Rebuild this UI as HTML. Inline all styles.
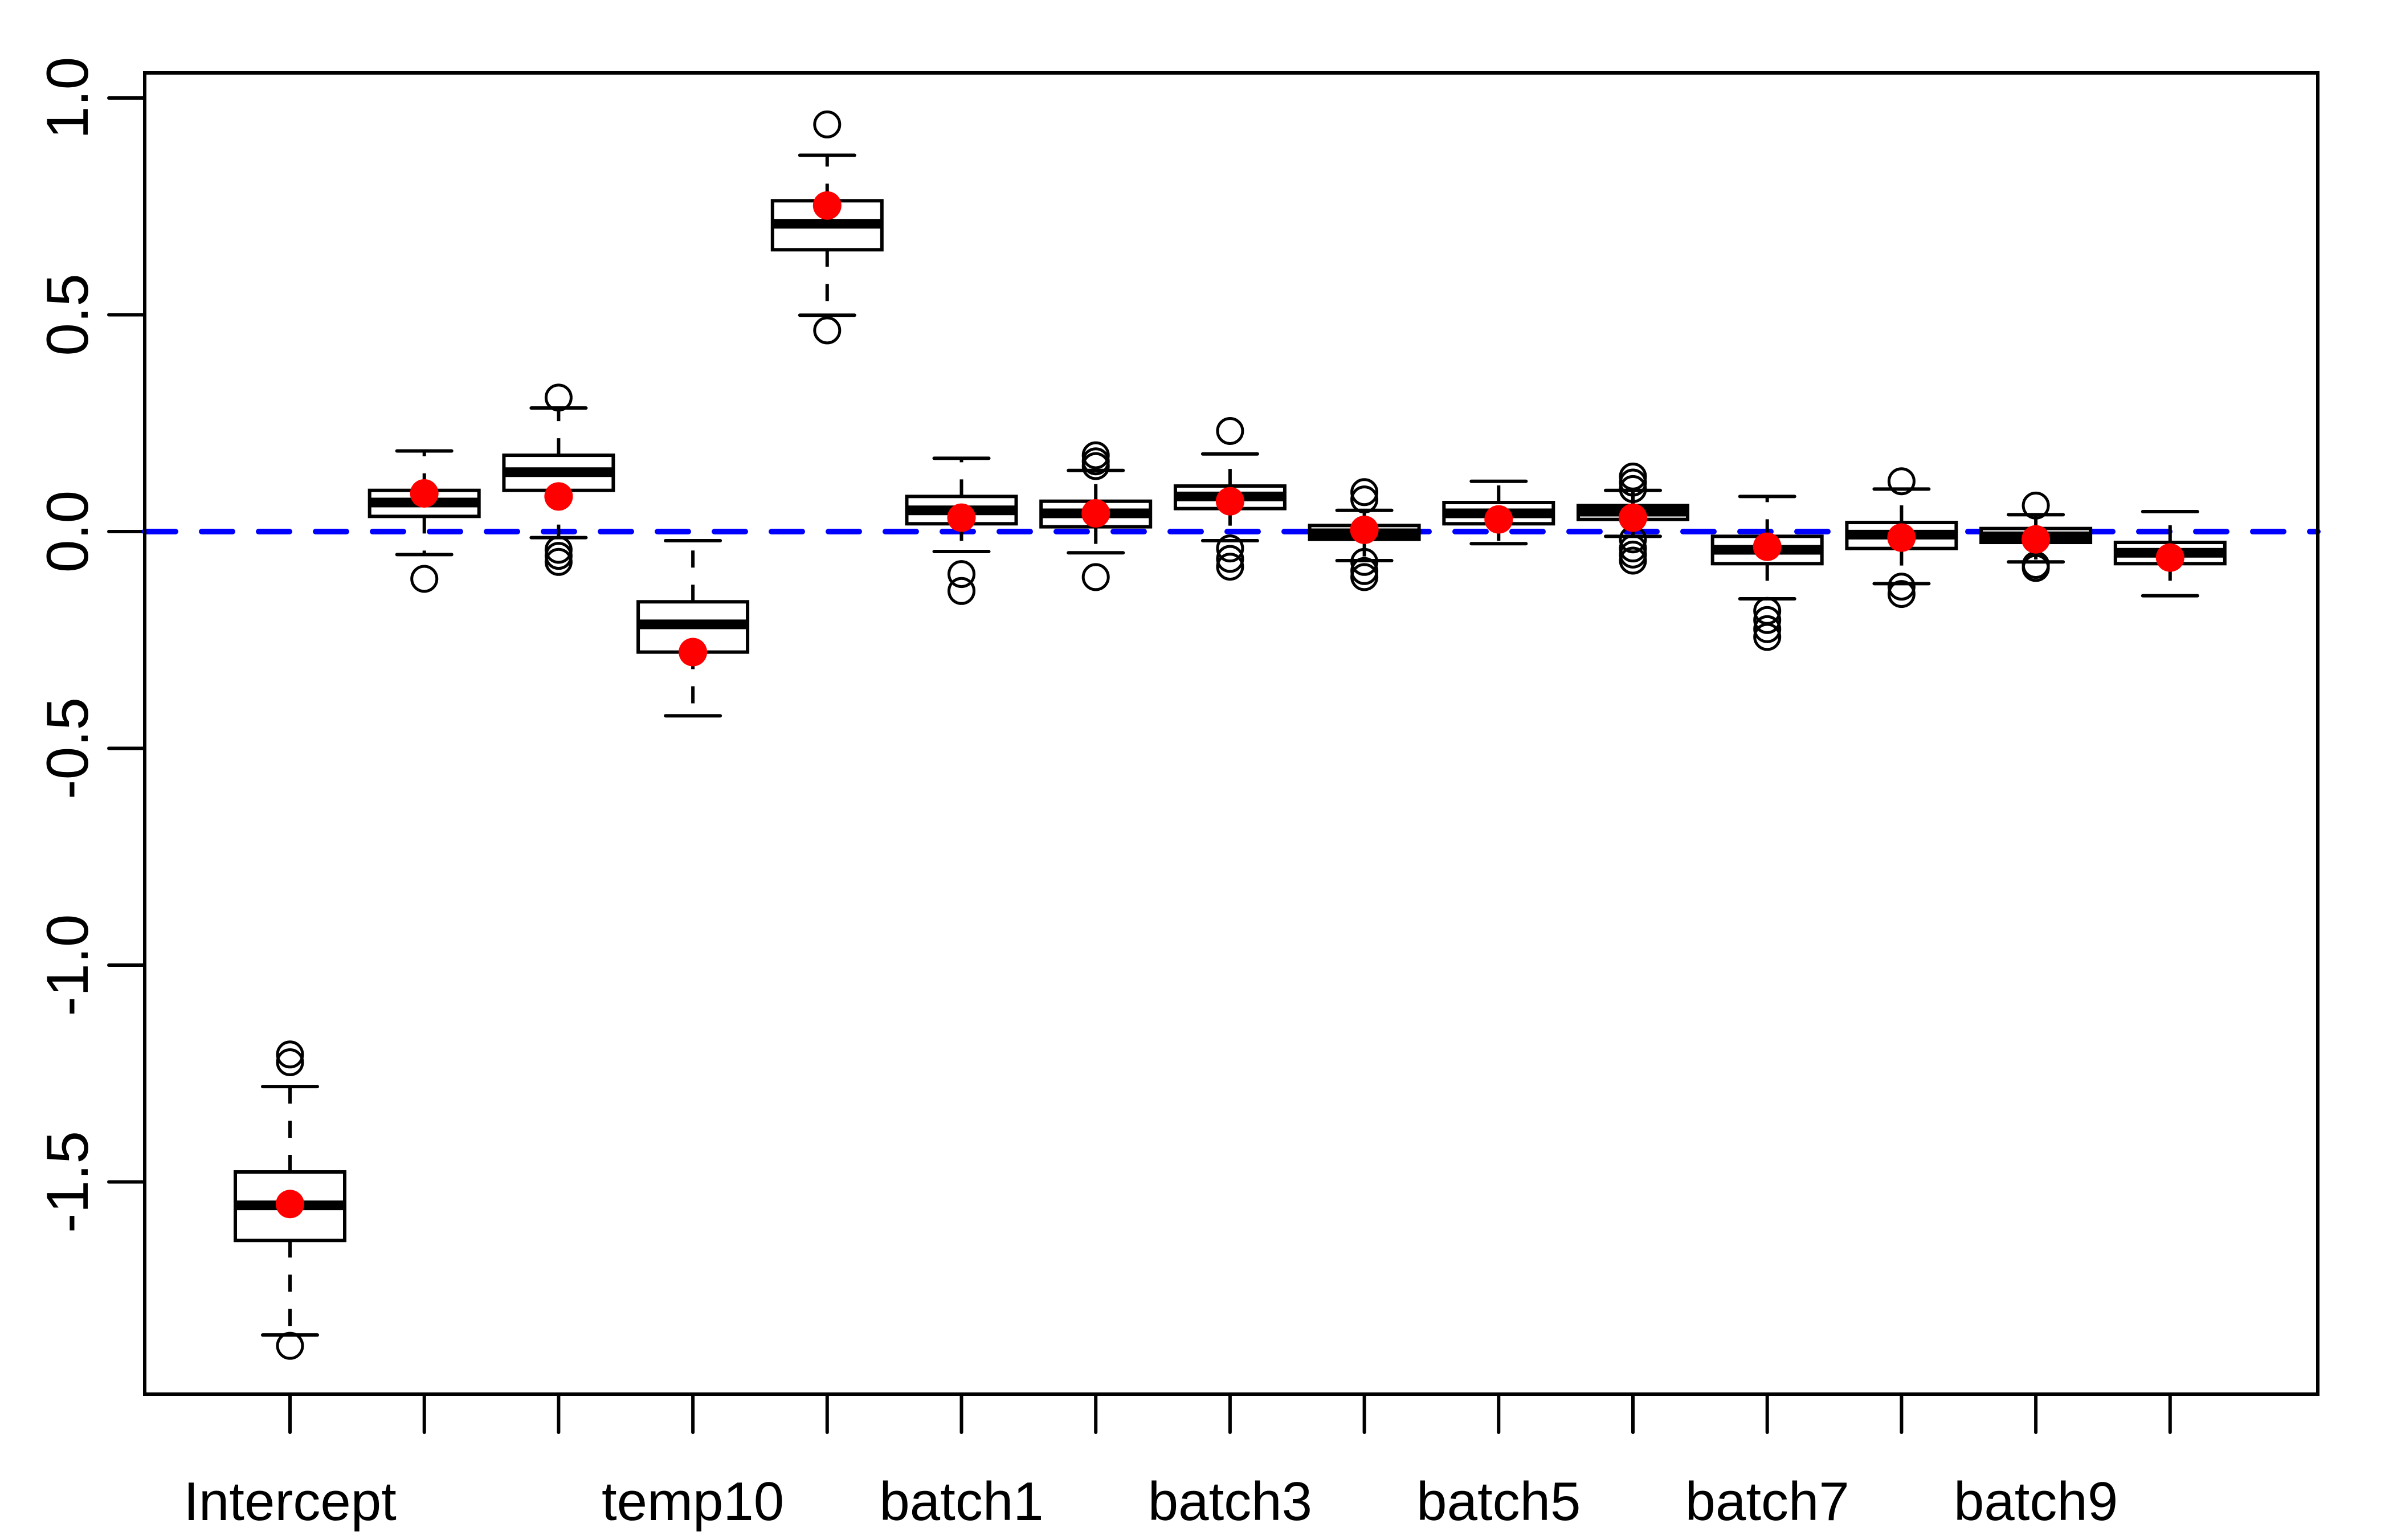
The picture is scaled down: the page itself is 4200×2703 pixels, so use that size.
<!DOCTYPE html>
<html><head><meta charset="utf-8"><style>
html,body{margin:0;padding:0;background:#fff;}
svg{display:block;}
text{font-family:"Liberation Sans",Arial,sans-serif;fill:#000;}
</style></head><body>
<svg id="chart" width="4200" height="2703" viewBox="0 0 4200 2703" xmlns="http://www.w3.org/2000/svg">
<rect x="0" y="0" width="4200" height="2703" fill="#fff"/>
<g id="marks"></g>
<rect x="254" y="128" width="3814" height="2319" fill="none" stroke="#000" stroke-width="6"/>
</svg>
<script>
const categories=["Intercept","","","temp10","","batch1","","batch3","","batch5","","batch7","","batch9",""];
const q1=[-1.635,0.035,0.095,-0.278,0.650,0.018,0.011,0.053,-0.018,0.018,0.028,-0.074,-0.039,-0.025,-0.074];
const medians=[-1.554,0.067,0.137,-0.214,0.710,0.049,0.042,0.081,-0.004,0.042,0.046,-0.042,-0.007,-0.011,-0.049];
const q3=[-1.477,0.095,0.176,-0.162,0.763,0.081,0.070,0.105,0.014,0.067,0.060,-0.011,0.021,0.007,-0.025];
const whiskerLo=[-1.853,-0.053,-0.014,-0.425,0.499,-0.046,-0.049,-0.021,-0.067,-0.028,-0.011,-0.155,-0.120,-0.070,-0.148];
const whiskerHi=[-1.280,0.186,0.285,-0.021,0.868,0.169,0.141,0.179,0.049,0.116,0.095,0.081,0.098,0.039,0.046];
const outliers=[[-1.206,-1.224,-1.878],[-0.109],[0.309,-0.042,-0.056,-0.070],[],[0.939,0.464],[-0.098,-0.137],[0.176,0.162,0.151,-0.105],[0.232,-0.039,-0.063,-0.081],[0.091,0.074,-0.070,-0.091,-0.105],[],[0.127,0.113,0.098,-0.018,-0.039,-0.053,-0.067],[-0.183,-0.204,-0.225,-0.243],[0.116,-0.127,-0.144],[0.060,-0.077,-0.084],[]];
const means=[-1.551,0.088,0.081,-0.278,0.752,0.032,0.042,0.070,0.004,0.028,0.032,-0.035,-0.014,-0.018,-0.060];
const yTicks=[-1.5,-1.0,-0.5,0.0,0.5,1.0];
const yTickLabels=["-1.5","-1.0","-0.5","0.0","0.5","1.0"];

const NS="http://www.w3.org/2000/svg";
const g=document.getElementById('marks');
function yS(v){return 933-v*761;}
function xS(i){return 509+i*235.7;}
function mk(tag,attrs,parent){const e=document.createElementNS(NS,tag);for(const k in attrs)e.setAttribute(k,attrs[k]);(parent||g).appendChild(e);return e;}

yTicks.forEach((v,i)=>{
  const t=mk('line',{x1:191,x2:254,y1:yS(v),y2:yS(v),stroke:'#000','stroke-width':6,'stroke-linecap':'round'});
  
  
  const tx=mk('text',{x:0,y:0,'font-size':104,'text-anchor':'middle',transform:`translate(154,${yS(v)}) rotate(-90)`});
  tx.textContent=yTickLabels[i];
  
  
});

const zl=mk('line',{x1:254,x2:4068,y1:yS(0),y2:yS(0),stroke:'#0000ff','stroke-width':10,'stroke-dasharray':'54 46','stroke-linecap':'round'});



const hw=96, cw=48;
categories.forEach((c,i)=>{
  const x=xS(i);
  const tk=mk('line',{x1:x,x2:x,y1:2447,y2:2514,stroke:'#000','stroke-width':6,'stroke-linecap':'round'});
  
  
  if(c){
    const lt=mk('text',{x:x,y:2668,'font-size':96,'text-anchor':'middle'});
    lt.textContent=c;
    
    
  }
  const w1=mk('line',{x1:x,x2:x,y1:yS(q3[i]),y2:yS(whiskerHi[i]),stroke:'#000','stroke-width':6,'stroke-dasharray':'30 30'});
  
  
  const w2=mk('line',{x1:x,x2:x,y1:yS(q1[i]),y2:yS(whiskerLo[i]),stroke:'#000','stroke-width':6,'stroke-dasharray':'30 30'});
  
  
  const c1=mk('line',{x1:x-cw,x2:x+cw,y1:yS(whiskerHi[i]),y2:yS(whiskerHi[i]),stroke:'#000','stroke-width':6,'stroke-linecap':'round'});
  
  
  const c2=mk('line',{x1:x-cw,x2:x+cw,y1:yS(whiskerLo[i]),y2:yS(whiskerLo[i]),stroke:'#000','stroke-width':6,'stroke-linecap':'round'});
  
  
  const b=mk('rect',{x:x-hw,y:yS(q3[i]),width:2*hw,height:yS(q1[i])-yS(q3[i]),fill:'#fff',stroke:'#000','stroke-width':6});
  
  
  const m=mk('line',{x1:x-hw,x2:x+hw,y1:yS(medians[i]),y2:yS(medians[i]),stroke:'#000','stroke-width':17});
  
  
  outliers[i].forEach(o=>{
    const oc=mk('circle',{cx:x,cy:yS(o),r:22,fill:'none',stroke:'#000','stroke-width':5});
    
    
  });
  const md=mk('circle',{cx:x,cy:yS(means[i]),r:25,fill:'#ff0000'});
  
  
});
</script>
</body></html>
